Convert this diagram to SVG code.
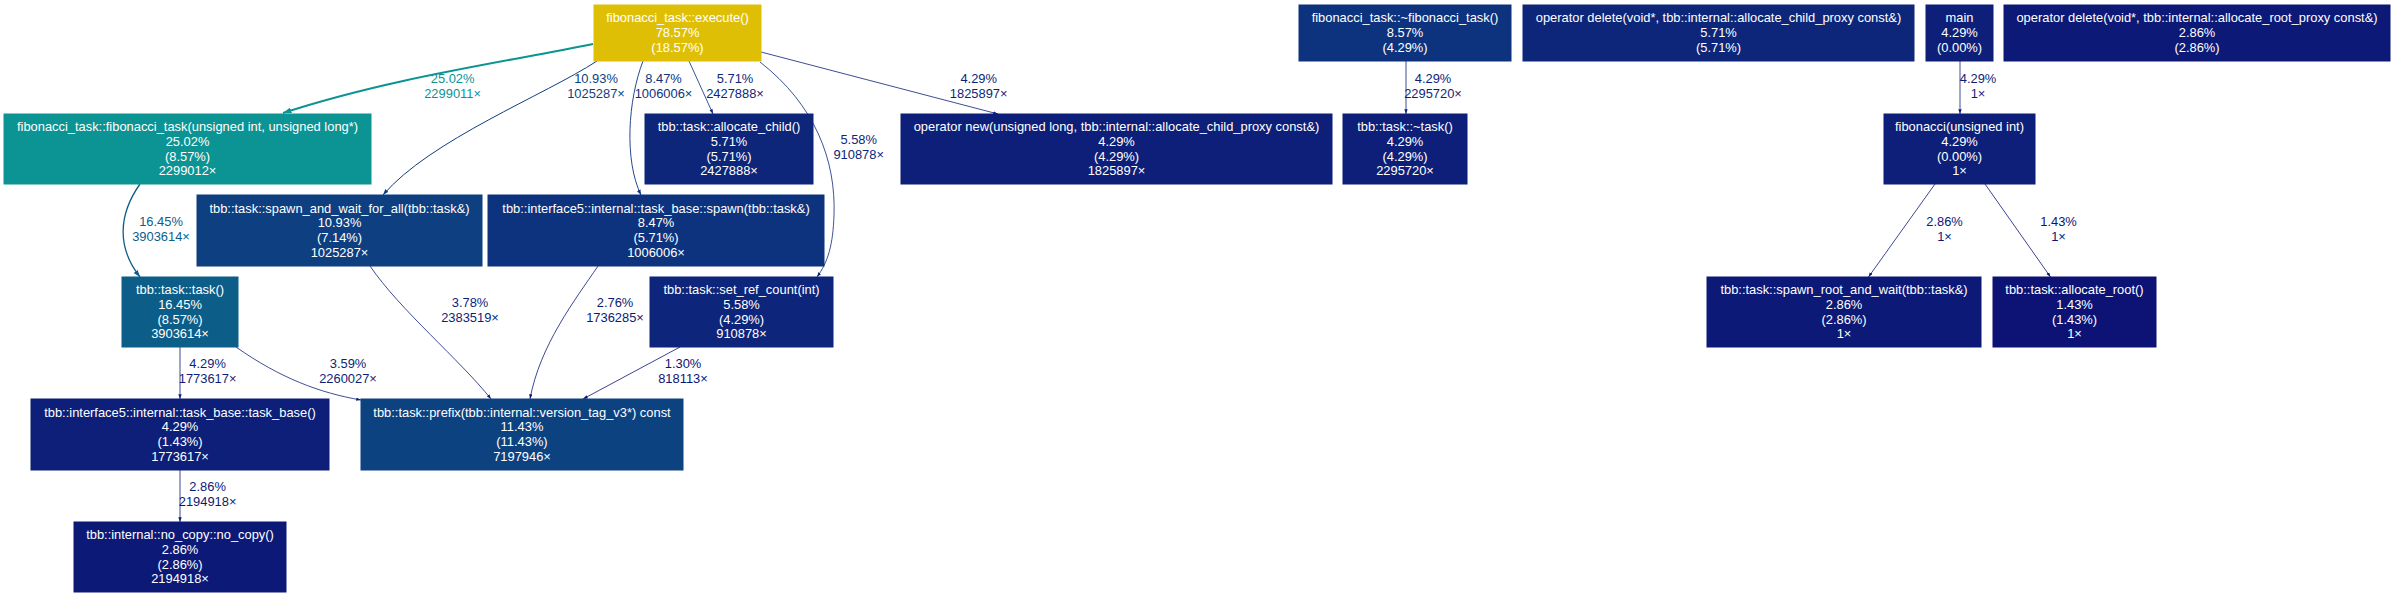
<svg xmlns="http://www.w3.org/2000/svg" width="2395" height="597" viewBox="0 0 2395 597">
<style>
text{font-family:"Liberation Sans",Arial,sans-serif;font-size:12.9px;text-anchor:middle}
.node text{fill:#ffffff}
.node rect{stroke-width:1}
.edge path{fill:none}
.c0{fill:#dfbf05;stroke:#dfbf05}
.c1{fill:#0c9393;stroke:#0c9393}
.c2{fill:#0c5e88;stroke:#0c5e88}
.c3{fill:#0d4281;stroke:#0d4281}
.c4{fill:#0d3f81;stroke:#0d3f81}
.c5{fill:#0d337e;stroke:#0d337e}
.c6{fill:#0d267a;stroke:#0d267a}
.c7{fill:#0d257a;stroke:#0d257a}
.c8{fill:#0d1f78;stroke:#0d1f78}
.c9{fill:#0d1976;stroke:#0d1976}
.c10{fill:#0d1375;stroke:#0d1375}
.e1 path{stroke:#0c9393;stroke-width:2}
.e1 text{fill:#0c9393}
.e2 path{stroke:#0c5e88;stroke-width:1.3}
.e2 text{fill:#0c5e88}
.e4 path{stroke:#0d3f81;stroke-width:1}
.e4 text{fill:#0d3f81}
.e5 path{stroke:#0d337e;stroke-width:0.9}
.e5 text{fill:#0d337e}
.e6 path{stroke:#0d267a;stroke-width:0.8}
.e6 text{fill:#0d267a}
.e8 path{stroke:#0d1f78;stroke-width:0.8}
.e8 text{fill:#0d1f78}
.e9 path{stroke:#0d1976;stroke-width:0.8}
.e9 text{fill:#0d1976}
.e10 path{stroke:#0d1375;stroke-width:0.8}
.e10 text{fill:#0d1375}
</style>
<defs>
<marker id="a1" markerUnits="userSpaceOnUse" markerWidth="10" markerHeight="8" refX="8.5" refY="3" orient="auto"><path d="M0,0 L8.5,3 L0,6 z" fill="#0c9393"/></marker>
<marker id="a2" markerUnits="userSpaceOnUse" markerWidth="9" markerHeight="7" refX="7" refY="2.5" orient="auto"><path d="M0,0 L7,2.5 L0,5 z" fill="#0c5e88"/></marker>
<marker id="a4" markerUnits="userSpaceOnUse" markerWidth="8" markerHeight="6" refX="6" refY="2.1" orient="auto"><path d="M0,0 L6,2.1 L0,4.2 z" fill="#0d3f81"/></marker>
<marker id="a5" markerUnits="userSpaceOnUse" markerWidth="7" markerHeight="6" refX="5.5" refY="2" orient="auto"><path d="M0,0 L5.5,2 L0,4 z" fill="#0d337e"/></marker>
<marker id="a6" markerUnits="userSpaceOnUse" markerWidth="6" markerHeight="5" refX="4.8" refY="1.7" orient="auto"><path d="M0,0 L4.8,1.7 L0,3.4 z" fill="#0d267a"/></marker>
<marker id="a8" markerUnits="userSpaceOnUse" markerWidth="6" markerHeight="5" refX="4.8" refY="1.7" orient="auto"><path d="M0,0 L4.8,1.7 L0,3.4 z" fill="#0d1f78"/></marker>
<marker id="a9" markerUnits="userSpaceOnUse" markerWidth="6" markerHeight="5" refX="4.8" refY="1.7" orient="auto"><path d="M0,0 L4.8,1.7 L0,3.4 z" fill="#0d1976"/></marker>
<marker id="a10" markerUnits="userSpaceOnUse" markerWidth="6" markerHeight="5" refX="4.8" refY="1.7" orient="auto"><path d="M0,0 L4.8,1.7 L0,3.4 z" fill="#0d1375"/></marker>
</defs>
<rect width="2395" height="597" fill="#ffffff"/>

<g id="connectors">
<g class="edge e1" id="e_execute_fibctor"><path d="M593,44 C505,62 390,78 283,113" marker-end="url(#a1)"/><text x="452.6" y="83.3">25.02%</text><text x="452.6" y="98.3">2299011×</text></g>
<g class="edge e4" id="e_execute_spawnwait"><path d="M597,61 C545,95 430,140 383,195" marker-end="url(#a4)"/><text x="596" y="83.3">10.93%</text><text x="596" y="98.3">1025287×</text></g>
<g class="edge e5" id="e_execute_spawn"><path d="M643,61 C628,100 624,160 641,195" marker-end="url(#a5)"/><text x="663.5" y="83.3">8.47%</text><text x="663.5" y="98.3">1006006×</text></g>
<g class="edge e6" id="e_execute_allocchild"><path d="M689,61 L713,114" marker-end="url(#a6)"/><text x="735" y="83.3">5.71%</text><text x="735" y="98.3">2427888×</text></g>
<g class="edge e6" id="e_execute_setref"><path d="M760,62 C815,105 836,160 834,215 C833,245 828,262 817,277" marker-end="url(#a6)"/><text x="858.7" y="144.3">5.58%</text><text x="858.7" y="159.3">910878×</text></g>
<g class="edge e8" id="e_execute_opnew"><path d="M761,52 L998,114" marker-end="url(#a8)"/><text x="978.7" y="83.3">4.29%</text><text x="978.7" y="98.3">1825897×</text></g>
<g class="edge e2" id="e_fibctor_task"><path d="M140,184 C118,215 117,248 140,277" marker-end="url(#a2)"/><text x="161" y="226.3">16.45%</text><text x="161" y="241.3">3903614×</text></g>
<g class="edge e8" id="e_spawnwait_prefix"><path d="M370,266 C400,310 460,360 491,399" marker-end="url(#a8)"/><text x="470" y="307.3">3.78%</text><text x="470" y="322.3">2383519×</text></g>
<g class="edge e9" id="e_spawn_prefix"><path d="M598,266 C575,300 540,345 530,399" marker-end="url(#a9)"/><text x="615" y="307.3">2.76%</text><text x="615" y="322.3">1736285×</text></g>
<g class="edge e10" id="e_setref_prefix"><path d="M680,347 L583,399" marker-end="url(#a10)"/><text x="683" y="368.3">1.30%</text><text x="683" y="383.3">818113×</text></g>
<g class="edge e8" id="e_task_taskbase"><path d="M180,347 L180,399" marker-end="url(#a8)"/><text x="207.6" y="368.3">4.29%</text><text x="207.6" y="383.3">1773617×</text></g>
<g class="edge e8" id="e_task_prefix"><path d="M236,347 C280,378 320,393 361,400" marker-end="url(#a8)"/><text x="348" y="368.3">3.59%</text><text x="348" y="383.3">2260027×</text></g>
<g class="edge e9" id="e_taskbase_nocopy"><path d="M180,470 L180,522" marker-end="url(#a9)"/><text x="207.6" y="491.3">2.86%</text><text x="207.6" y="506.3">2194918×</text></g>
<g class="edge e8" id="e_dtorfib_dtortask"><path d="M1406,61 L1406,114" marker-end="url(#a8)"/><text x="1433" y="83.3">4.29%</text><text x="1433" y="98.3">2295720×</text></g>
<g class="edge e8" id="e_main_fibonacci"><path d="M1960,61 L1960,114" marker-end="url(#a8)"/><text x="1978" y="83.3">4.29%</text><text x="1978" y="98.3">1×</text></g>
<g class="edge e9" id="e_fibonacci_spawnroot"><path d="M1935,184 L1868.5,277" marker-end="url(#a9)"/><text x="1944.5" y="226.3">2.86%</text><text x="1944.5" y="241.3">1×</text></g>
<g class="edge e10" id="e_fibonacci_allocroot"><path d="M1985,184 L2050.5,277" marker-end="url(#a10)"/><text x="2058.5" y="226.3">1.43%</text><text x="2058.5" y="241.3">1×</text></g>
</g>

<g class="node" id="n_execute"><rect class="c0" x="594" y="5" width="167" height="56"/><text x="677.5" y="22">fibonacci_task::execute()</text><text x="677.5" y="36.8">78.57%</text><text x="677.5" y="51.6">(18.57%)</text></g>
<g class="node" id="n_fibctor"><rect class="c1" x="4" y="114" width="367" height="70"/><text x="187.5" y="131">fibonacci_task::fibonacci_task(unsigned int, unsigned long*)</text><text x="187.5" y="145.8">25.02%</text><text x="187.5" y="160.6">(8.57%)</text><text x="187.5" y="175.4">2299012×</text></g>
<g class="node" id="n_spawnwait"><rect class="c4" x="197" y="195" width="285" height="71"/><text x="339.5" y="212.5">tbb::task::spawn_and_wait_for_all(tbb::task&amp;)</text><text x="339.5" y="227.3">10.93%</text><text x="339.5" y="242.1">(7.14%)</text><text x="339.5" y="256.9">1025287×</text></g>
<g class="node" id="n_spawn"><rect class="c5" x="488" y="195" width="336" height="71"/><text x="656" y="212.5">tbb::interface5::internal::task_base::spawn(tbb::task&amp;)</text><text x="656" y="227.3">8.47%</text><text x="656" y="242.1">(5.71%)</text><text x="656" y="256.9">1006006×</text></g>
<g class="node" id="n_allocchild"><rect class="c6" x="645" y="114" width="168" height="70"/><text x="729" y="131">tbb::task::allocate_child()</text><text x="729" y="145.8">5.71%</text><text x="729" y="160.6">(5.71%)</text><text x="729" y="175.4">2427888×</text></g>
<g class="node" id="n_opnew"><rect class="c8" x="901" y="114" width="431" height="70"/><text x="1116.5" y="131">operator new(unsigned long, tbb::internal::allocate_child_proxy const&amp;)</text><text x="1116.5" y="145.8">4.29%</text><text x="1116.5" y="160.6">(4.29%)</text><text x="1116.5" y="175.4">1825897×</text></g>
<g class="node" id="n_dtorfib"><rect class="c5" x="1299" y="5" width="212" height="56"/><text x="1405" y="22">fibonacci_task::~fibonacci_task()</text><text x="1405" y="36.8">8.57%</text><text x="1405" y="51.6">(4.29%)</text></g>
<g class="node" id="n_opdelchild"><rect class="c6" x="1523" y="5" width="391" height="56"/><text x="1718.5" y="22">operator delete(void*, tbb::internal::allocate_child_proxy const&amp;)</text><text x="1718.5" y="36.8">5.71%</text><text x="1718.5" y="51.6">(5.71%)</text></g>
<g class="node" id="n_main"><rect class="c8" x="1926" y="5" width="67" height="56"/><text x="1959.5" y="22">main</text><text x="1959.5" y="36.8">4.29%</text><text x="1959.5" y="51.6">(0.00%)</text></g>
<g class="node" id="n_opdelroot"><rect class="c9" x="2004" y="5" width="386" height="56"/><text x="2197" y="22">operator delete(void*, tbb::internal::allocate_root_proxy const&amp;)</text><text x="2197" y="36.8">2.86%</text><text x="2197" y="51.6">(2.86%)</text></g>
<g class="node" id="n_dtortask"><rect class="c8" x="1343" y="114" width="124" height="70"/><text x="1405" y="131">tbb::task::~task()</text><text x="1405" y="145.8">4.29%</text><text x="1405" y="160.6">(4.29%)</text><text x="1405" y="175.4">2295720×</text></g>
<g class="node" id="n_fibonacci"><rect class="c8" x="1884" y="114" width="151" height="70"/><text x="1959.5" y="131">fibonacci(unsigned int)</text><text x="1959.5" y="145.8">4.29%</text><text x="1959.5" y="160.6">(0.00%)</text><text x="1959.5" y="175.4">1×</text></g>
<g class="node" id="n_setref"><rect class="c7" x="650" y="277" width="183" height="70"/><text x="741.5" y="294">tbb::task::set_ref_count(int)</text><text x="741.5" y="308.8">5.58%</text><text x="741.5" y="323.6">(4.29%)</text><text x="741.5" y="338.4">910878×</text></g>
<g class="node" id="n_task"><rect class="c2" x="122" y="277" width="116" height="70"/><text x="180" y="294">tbb::task::task()</text><text x="180" y="308.8">16.45%</text><text x="180" y="323.6">(8.57%)</text><text x="180" y="338.4">3903614×</text></g>
<g class="node" id="n_taskbase"><rect class="c8" x="31" y="399" width="298" height="71"/><text x="180" y="416.5">tbb::interface5::internal::task_base::task_base()</text><text x="180" y="431.3">4.29%</text><text x="180" y="446.1">(1.43%)</text><text x="180" y="460.9">1773617×</text></g>
<g class="node" id="n_prefix"><rect class="c3" x="361" y="399" width="322" height="71"/><text x="522" y="416.5">tbb::task::prefix(tbb::internal::version_tag_v3*) const</text><text x="522" y="431.3">11.43%</text><text x="522" y="446.1">(11.43%)</text><text x="522" y="460.9">7197946×</text></g>
<g class="node" id="n_nocopy"><rect class="c9" x="74" y="522" width="212" height="70"/><text x="180" y="539">tbb::internal::no_copy::no_copy()</text><text x="180" y="553.8">2.86%</text><text x="180" y="568.6">(2.86%)</text><text x="180" y="583.4">2194918×</text></g>
<g class="node" id="n_spawnroot"><rect class="c9" x="1707" y="277" width="274" height="70"/><text x="1844" y="294">tbb::task::spawn_root_and_wait(tbb::task&amp;)</text><text x="1844" y="308.8">2.86%</text><text x="1844" y="323.6">(2.86%)</text><text x="1844" y="338.4">1×</text></g>
<g class="node" id="n_allocroot"><rect class="c10" x="1993" y="277" width="163" height="70"/><text x="2074.5" y="294">tbb::task::allocate_root()</text><text x="2074.5" y="308.8">1.43%</text><text x="2074.5" y="323.6">(1.43%)</text><text x="2074.5" y="338.4">1×</text></g>
</svg>
